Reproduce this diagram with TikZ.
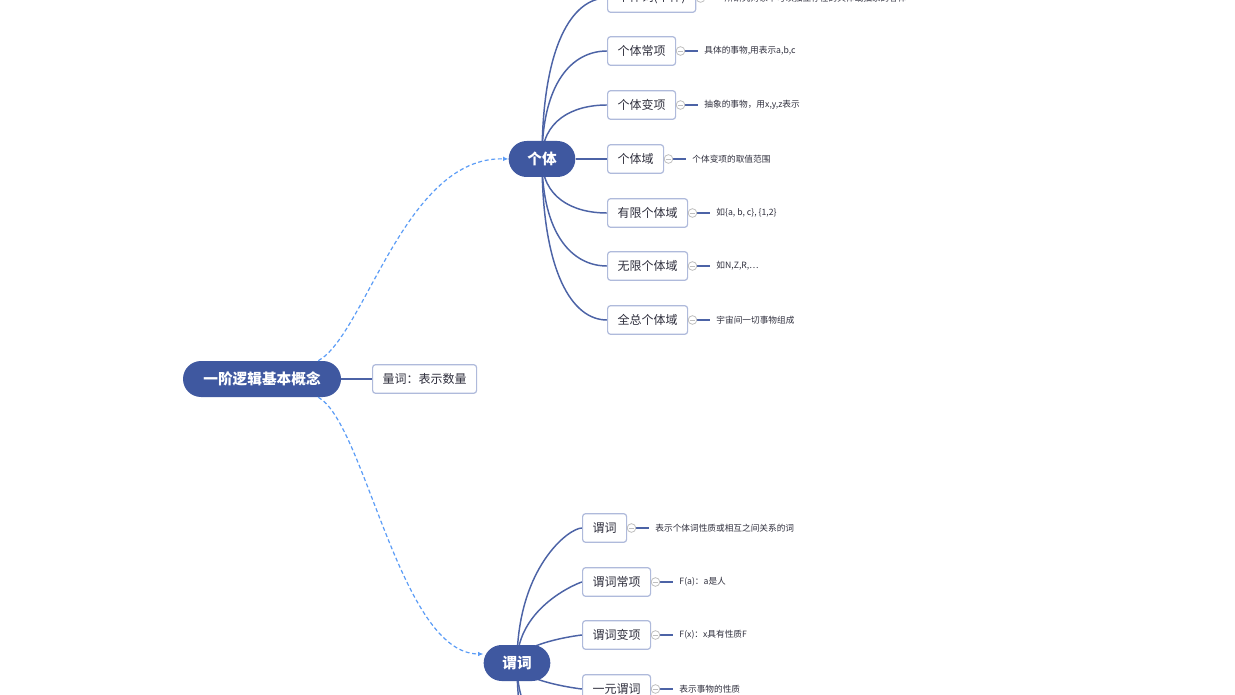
\documentclass[tikz,border=0pt]{standalone}
\usepackage{fontspec}
\setmainfont{Noto Sans CJK SC}
\usetikzlibrary{arrows.meta,backgrounds}
\definecolor{pillblue}{HTML}{3F58A0}
\definecolor{linkblue}{HTML}{4C63A6}
\definecolor{boxedge}{HTML}{AFBADB}
\definecolor{dashblue}{HTML}{5B9CF6}
\definecolor{txtgray}{HTML}{2E2E3C}

\begin{document}
\begin{tikzpicture}[x=0.75pt, y=-0.75pt,
      pill/.style={fill=pillblue, text=white, rounded corners=13.5pt, minimum height=27pt, inner sep=0pt, font=\fontsize{11}{13}\selectfont\bfseries},
      box/.style={draw=boxedge, fill=white, line width=0.9pt, rounded corners=2.25pt, minimum height=21.5pt, inner xsep=7.5pt, inner ysep=0pt, anchor=west, text=txtgray, font=\fontsize{9}{11}\selectfont},
      desc/.style={anchor=west, inner sep=0pt, text=txtgray, font=\fontsize{6.5}{8}\selectfont},
      fold/.style={circle, draw=gray!50, fill=white, line width=0.6pt, minimum size=6.5pt, inner sep=0pt,
        path picture={\draw[gray!50, line width=0.6pt] ([xshift=1.2pt]path picture bounding box.west) -- ([xshift=-1.2pt]path picture bounding box.east);}},
      branch/.style={draw=linkblue, line width=1.1pt},
      leaf/.style={draw=linkblue, line width=0.8pt},
      link/.style={draw=dashblue, line width=0.9pt, dash pattern=on 3pt off 2pt, -{Latex[length=4pt,width=3.5pt]}}
    ]
    \useasboundingbox (0,0) rectangle (1235,695);
    \clip (0,0) rectangle (1235,695);

    % main topics
    \node[pill, minimum width=118.5pt] (root) at (262,379) {一阶逻辑基本概念};
    \node[box] (lc) at (372,379) {量词：表示数量};
    \node[pill, minimum width=50pt] (gt) at (542,159) {个体};
    \node[pill, minimum width=50pt] (pw) at (517,663) {谓词};

    % individuals
    \node[box] (gtc) at (607,-2)  {个体词(个体)};
    \node[box] (cx)  at (607,51)  {个体常项};
    \node[box] (bx)  at (607,105) {个体变项};
    \node[box] (yu)  at (607,159) {个体域};
    \node[box] (yx)  at (607,213) {有限个体域};
    \node[box] (wx)  at (607,266) {无限个体域};
    \node[box] (qz)  at (607,320) {全总个体域};

    \node[desc] (gtcd) at ([xshift=21pt]gtc.east) {所研究对象中可以独立存在的具体或抽象的客体};
    \node[desc] (cxd)  at ([xshift=21pt]cx.east)  {具体的事物,用表示a,b,c};
    \node[desc] (bxd)  at ([xshift=21pt]bx.east)  {抽象的事物，用x,y,z表示};
    \node[desc] (yud)  at ([xshift=21pt]yu.east)  {个体变项的取值范围};
    \node[desc] (yxd)  at ([xshift=21pt]yx.east)  {如\{a, b, c\}, \{1,2\}};
    \node[desc] (wxd)  at ([xshift=21pt]wx.east)  {如N,Z,R,…};
    \node[desc] (qzd)  at ([xshift=21pt]qz.east)  {宇宙间一切事物组成};

    % predicates
    \node[box] (wc)  at (582,528) {谓词};
    \node[box] (wcx) at (582,582) {谓词常项};
    \node[box] (wbx) at (582,635) {谓词变项};
    \node[box] (yy)  at (582,689) {一元谓词};
    \coordinate (more1) at (582,743);
    \coordinate (more2) at (582,797);

    \node[desc] (wcd)  at ([xshift=21pt]wc.east)  {表示个体词性质或相互之间关系的词};
    \node[desc] (wcxd) at ([xshift=21pt]wcx.east) {F(a)：a是人};
    \node[desc] (wbxd) at ([xshift=21pt]wbx.east) {F(x)：x具有性质F};
    \node[desc] (yyd)  at ([xshift=21pt]yy.east)  {表示事物的性质};

    \begin{pgfonlayer}{background}
      \draw[branch] (root.east) -- (lc.west);
      % fan out from the topic centres
      \foreach \n/\h in {gtc/-113, cx/-76, bx/-38, yx/38, wx/75, qz/113}
        \draw[branch] (gt.center) .. controls +(0,\h) and +(-35,0) .. (\n.west);
      \draw[branch] (gt.east) -- (yu.west);
      \foreach \n/\h in {wc/-95, wcx/-57, wbx/-20, yy/18, more1/56, more2/94}
        \draw[branch] (pw.center) .. controls +(0,\h) and +(-36,0) .. (\n);
      % leaf lines
      \foreach \n in {gtc,cx,bx,yu,yx,wx,qz,wc,wcx,wbx,yy}
        \draw[leaf] (\n.east) -- ([xshift=-4.5pt]\n d.west);
    \end{pgfonlayer}

    \foreach \n in {gtc,cx,bx,yu,yx,wx,qz,wc,wcx,wbx,yy}
      \node[fold] at ([xshift=3.2pt]\n.east) {};

    % dashed links from the root
    \draw[link] ([xshift=-17.25pt]root.north east) .. controls (365,335) and (405,156) .. (gt.west);
    \draw[link] ([xshift=-17.25pt]root.south east) .. controls (365,423) and (400,654) .. ([yshift=6.75pt]pw.west);
  \end{tikzpicture}
\end{document}
